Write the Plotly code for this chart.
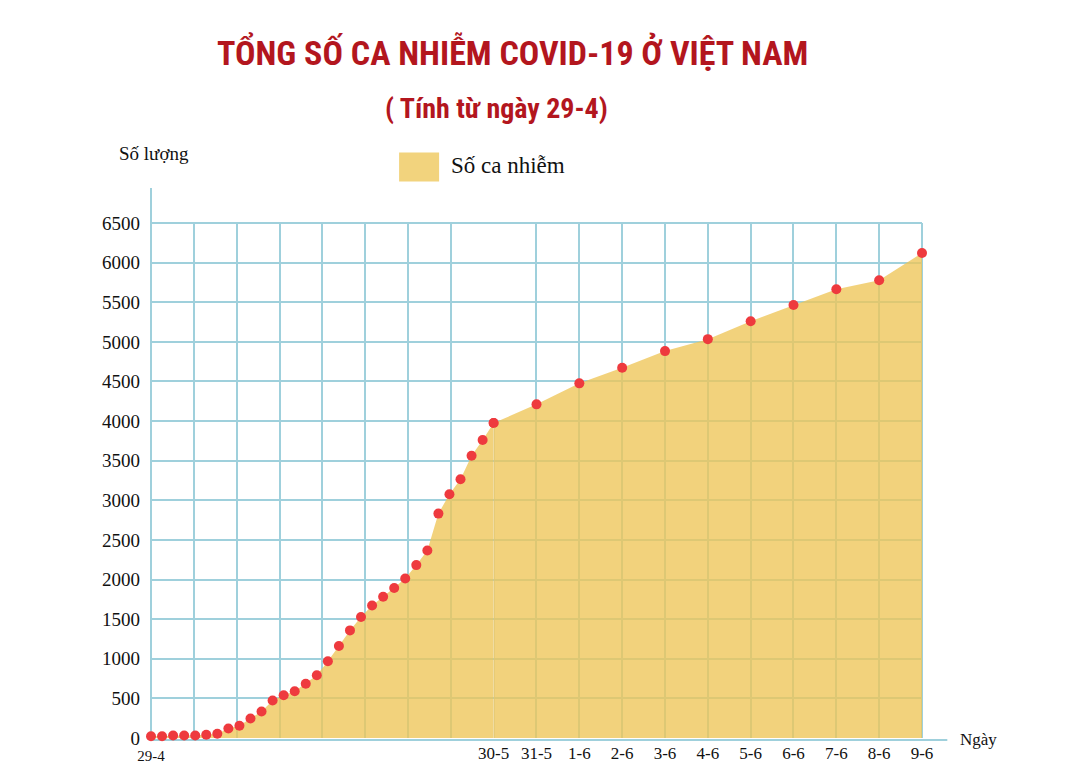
import plotly.graph_objects as go

# ---------------- data ----------------
dates = ["29-4", "30-4",
         "1-5", "2-5", "3-5", "4-5", "5-5", "6-5", "7-5", "8-5", "9-5", "10-5",
         "11-5", "12-5", "13-5", "14-5", "15-5", "16-5", "17-5", "18-5", "19-5", "20-5",
         "21-5", "22-5", "23-5", "24-5", "25-5", "26-5", "27-5", "28-5", "29-5", "30-5",
         "31-5", "1-6", "2-6", "3-6", "4-6", "5-6", "6-6", "7-6", "8-6", "9-6"]
cases = [23, 23, 31, 31, 31, 40, 53, 120, 154, 246, 334, 473,
         539, 590, 685, 791, 968, 1162, 1358, 1527, 1673, 1783,
         1893, 2013, 2182, 2366, 2832, 3077, 3266, 3563, 3761, 3975,
         4211, 4476, 4672, 4883, 5034, 5261, 5466, 5664, 5777, 6121]
y_ticks = list(range(0, 6501, 500))
split_date = "30-5"          # after this date the axis switches to one column per day
early_columns = 8            # grid columns used for 29-4 .. 30-5

title = "TỔNG SỐ CA NHIỄM COVID-19 Ở VIỆT NAM"
subtitle = "( Tính từ ngày 29-4)"
legend_name = "Số ca nhiễm"
y_title = "Số lượng"
x_title = "Ngày"

# ---------------- styling ----------------
OFF = 8                      # page body margin of the html page
W, H = 1080 - OFF, 777 - OFF
PL, PR, PT, PB = 151, 921.7, 223, 738.5      # plot area in page pixels
L, T = PL - OFF, PT - OFF
R, B = W - (PR - OFF), H - (PB - OFF)
PW, PH = PR - PL, PB - PT
def px(x): return (x - PL) / PW
def py(y): return (PB - y) / PH

RED_TITLE = "#b3161e"
DOT = "#ee3a3e"
FILL = "rgba(238,197,87,0.78)"
SEAM = "rgb(224,200,116)"
GRID = "#9fd0dc"
SERIF = "Liberation Serif"
NARROW = "Liberation Sans Narrow, Roboto Condensed, Roboto"

k = dates.index(split_date)
n_late = len(dates) - 1 - k
x_idx = list(range(len(dates)))
split_frac = early_columns / (early_columns + n_late)

fig = go.Figure()
# early segment (compressed scale)
fig.add_trace(go.Scatter(x=x_idx[:k + 1], y=cases[:k + 1], xaxis="x", yaxis="y",
                         mode="lines", line=dict(width=0), fill="tozeroy",
                         fillcolor=FILL, hoverinfo="skip", showlegend=False))
# late segment (one column per day)
fig.add_trace(go.Scatter(x=x_idx[k:], y=cases[k:], xaxis="x2", yaxis="y",
                         mode="lines", line=dict(width=0), fill="tozeroy",
                         fillcolor=FILL, hoverinfo="skip", showlegend=False))
fig.add_trace(go.Scatter(x=x_idx[:k + 1], y=cases[:k + 1], xaxis="x", yaxis="y",
                         mode="markers", marker=dict(color=DOT, size=10),
                         text=dates[:k + 1], showlegend=False, cliponaxis=False))
fig.add_trace(go.Scatter(x=x_idx[k:], y=cases[k:], xaxis="x2", yaxis="y",
                         mode="markers", marker=dict(color=DOT, size=10),
                         text=dates[k:], showlegend=False, cliponaxis=False))

early_ticks = [i * k / early_columns for i in range(early_columns + 1)]

fig.update_layout(
    width=W, height=H,
    margin=dict(l=L, r=R, t=T, b=B),
    paper_bgcolor="white", plot_bgcolor="white",
    xaxis=dict(domain=[0, split_frac], range=[0, k],
               tickvals=early_ticks, ticktext=[dates[0]] + [""] * early_columns,
               showgrid=True, gridcolor=GRID, gridwidth=2, zeroline=False,
               showline=False, ticks="", ticklabelstandoff=7,
               tickfont=dict(family=SERIF, size=15, color="#111"),
               fixedrange=True),
    xaxis2=dict(domain=[split_frac, 1], range=[k, len(dates) - 1], anchor="y",
                tickvals=x_idx[k:], ticktext=dates[k:],
                showgrid=True, gridcolor=GRID, gridwidth=2, zeroline=False,
                showline=False, ticks="", ticklabelstandoff=3,
                tickfont=dict(family=SERIF, size=17, color="#111"),
                fixedrange=True),
    yaxis=dict(range=[0, 6500], tickvals=y_ticks, ticktext=[str(v) for v in y_ticks],
               showgrid=True, gridcolor=GRID, gridwidth=2, zeroline=False,
               showline=False, ticks="", ticklabelstandoff=10,
               tickfont=dict(family=SERIF, size=19, color="#111"), fixedrange=True),
    shapes=[
        # extended y axis line
        dict(type="line", xref="paper", yref="paper", x0=0, x1=0, y0=0, y1=py(188),
             line=dict(color=GRID, width=2), layer="below"),
        # extended x axis line
        dict(type="line", xref="paper", yref="paper", x0=0, x1=px(947), y0=py(740.5), y1=py(740.5),
             line=dict(color=GRID, width=2), layer="below"),
        # top and right frame of the grid
        dict(type="line", xref="paper", yref="paper", x0=0, x1=1, y0=1, y1=1,
             line=dict(color=GRID, width=2), layer="below"),
        dict(type="line", xref="paper", yref="paper", x0=1, x1=1, y0=0, y1=1,
             line=dict(color=GRID, width=2), layer="below"),
        # grid line under the fill where the two scales meet (hides the fill seam)
        dict(type="line", xref="x2", yref="y", x0=k, x1=k, y0=0, y1=cases[k] * 0.985,
             line=dict(color=SEAM, width=2), layer="above"),
        # legend swatch
        dict(type="rect", xref="paper", yref="paper", x0=px(399), x1=px(439),
             y0=py(181.5), y1=py(152.5), fillcolor="#f2d37d", line=dict(width=0)),
    ],
    annotations=[
        dict(text="<b>" + title + "</b>", xref="paper", yref="paper", x=px(512), y=py(52),
             xanchor="center", yanchor="middle", showarrow=False,
             font=dict(family=NARROW, size=34, color=RED_TITLE)),
        dict(text="<b>" + subtitle + "</b>", xref="paper", yref="paper", x=px(496), y=py(108),
             xanchor="center", yanchor="middle", showarrow=False,
             font=dict(family=NARROW, size=28, color=RED_TITLE)),
        dict(text=legend_name, xref="paper", yref="paper", x=px(449), y=py(165),
             xanchor="left", yanchor="middle", showarrow=False,
             font=dict(family=SERIF, size=23, color="#111")),
        dict(text=y_title, xref="paper", yref="paper", x=px(117), y=py(153),
             xanchor="left", yanchor="middle", showarrow=False,
             font=dict(family=SERIF, size=19, color="#111")),
        dict(text=x_title, xref="paper", yref="paper", x=px(958), y=py(740),
             xanchor="left", yanchor="middle", showarrow=False,
             font=dict(family=SERIF, size=17, color="#111")),
    ],
)

fig.write_html("out.html")
